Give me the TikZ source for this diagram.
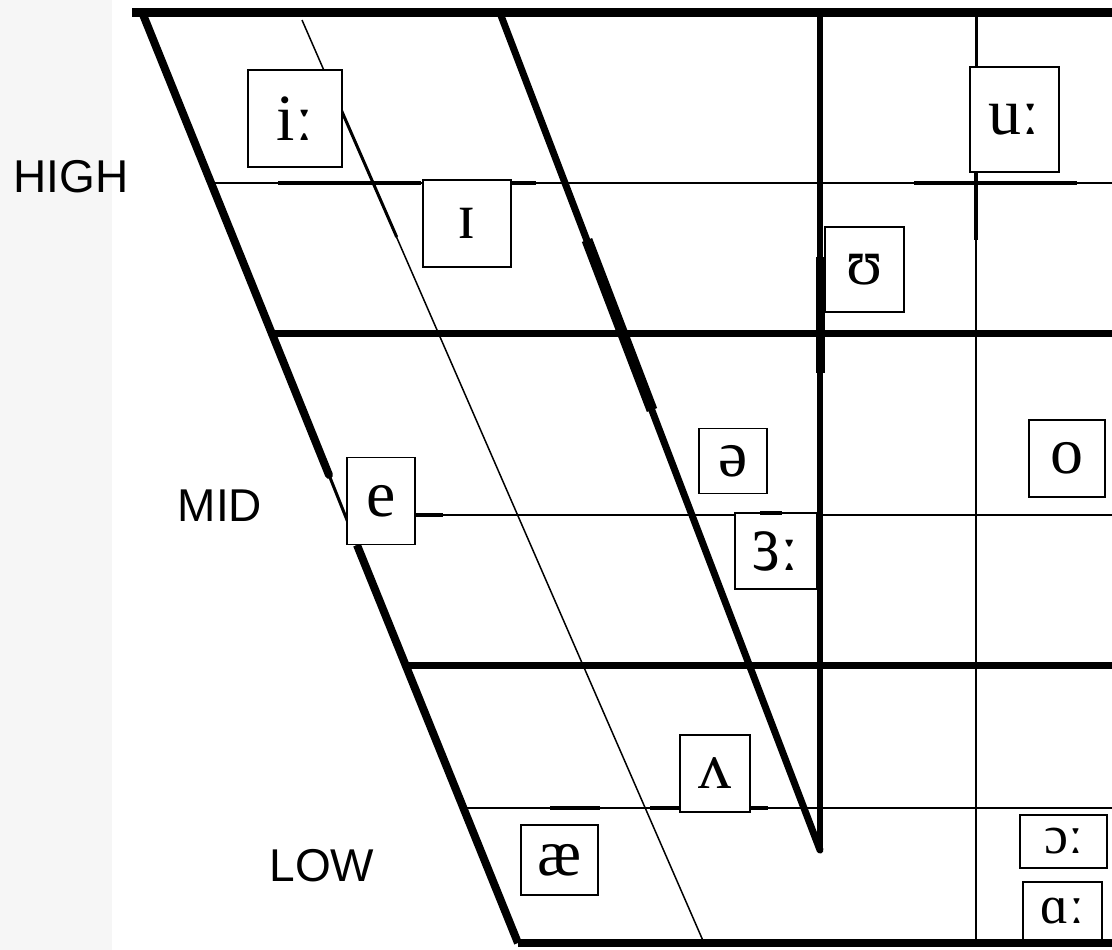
\documentclass[tikz,border=0pt]{standalone}
\usepackage{fontspec}
\usepackage{graphicx}
\setmainfont{Liberation Serif}
\newfontfamily\labelfont{Liberation Sans}
\definecolor{texture}{RGB}{246,246,246}
\begin{document}
\begin{tikzpicture}[x=1pt,y=-1pt,
  heavy/.style={line width=7pt},
  light/.style={line width=1.8pt},
  blot/.style={line width=4pt},
  vbox/.style={draw, fill=white, line width=1.6pt, inner sep=0pt,
    font=\fontsize{66}{66}\selectfont},
  smallvbox/.style={vbox, font=\fontsize{54}{54}\selectfont},
  lvl/.style={font=\labelfont\fontsize{46}{46}\selectfont}]
\useasboundingbox (0,0) rectangle (1112,950);
\fill[texture] (0,0) rectangle (112,950);

% frame coordinates
\coordinate (tl) at (132,13);
\coordinate (tr) at (1112,13);
\coordinate (ls0) at (142,12);
\coordinate (lsa) at (329,475);
\coordinate (lsb) at (357,545);
\coordinate (ls1) at (518,943);
\coordinate (bl) at (518,943);
\coordinate (br) at (1112,943);
\coordinate (ms0) at (500,13);
\coordinate (ms1) at (820,850);
\coordinate (vt) at (820,13);
\coordinate (vb) at (820,850);
\coordinate (tv0) at (976,13);
\coordinate (tv1) at (976,943);
\coordinate (ts0) at (302,20);
\coordinate (ts1) at (704,943);

% outer frame
\draw[line width=9pt] (tl) -- (tr);
\draw[line width=8pt] (bl) -- (br);
\draw[line width=8pt, line cap=round] (ls0) -- (lsa);
\draw[line width=3pt] (lsa) -- (lsb);
\draw[line width=8pt] (lsb) -- (ls1);

% inner slant and vertical
\draw[heavy, line cap=round] (ms0) -- (ms1);
\draw[line width=11pt] (587,240) -- (652,410);
\draw[line width=6.5pt, line cap=round] (vt) -- (vb);
\draw[line width=9pt] (820,257) -- (820,373);
\draw[line width=2pt] (tv0) -- (tv1);
\draw[line width=3pt] (976,13) -- (976,67);
\draw[blot] (976,170) -- (976,240);

% thin slant
\draw[line width=1.5pt] (ts0) -- (ts1);
\draw[line width=3pt] (340.4,108) -- (396.7,237);

% horizontal grid
\coordinate (h1a) at (211,183);   \coordinate (h1b) at (1112,183);
\coordinate (h2a) at (272,333);   \coordinate (h2b) at (1112,333);
\coordinate (h3a) at (345,515);   \coordinate (h3b) at (1112,515);
\coordinate (h4a) at (406,665);   \coordinate (h4b) at (1112,665);
\coordinate (h5a) at (464,808);   \coordinate (h5b) at (1112,808);
\draw[light] (h1a) -- (h1b);
\draw[blot] (278,183) -- (421,183);
\draw[blot] (511,183) -- (536,183);
\draw[blot] (914,183) -- (1077,183);
\draw[heavy] (h2a) -- (h2b);
\draw[light] (h3a) -- (h3b);
\draw[blot] (414,515) -- (443,515);
\draw[heavy] (h4a) -- (h4b);
\draw[light] (h5a) -- (h5b);
\draw[blot] (550,808) -- (600,808);
\draw[blot] (650,808) -- (680,808);
\draw[blot] (750,808) -- (768,808);

% vowel boxes
\node[vbox, minimum width=94pt, minimum height=97pt] (iy) at (295,118.5) {iː};
\node[vbox, minimum width=88pt, minimum height=87pt] (ih) at (467,223.5) {ɪ};
\node[vbox, minimum width=89pt, minimum height=105pt] (uw) at (1014.5,119.5) {uː};
\node[vbox, minimum width=79pt, minimum height=85pt] (uh) at (864.5,269.5) {ʊ};
\node[vbox, minimum width=68pt, minimum height=65pt] (schwa) at (733,461) {ə};
\node[vbox, minimum width=76pt, minimum height=77pt] (ow) at (1067,458.5) {o};
\node[vbox, minimum width=68pt, minimum height=87pt] (eh) at (381,501) {e};
\node[vbox, minimum width=82pt, minimum height=76pt] (er) at (776,551) {\scalebox{1}[1.25]{ɜ}ː};
\node[vbox, minimum width=70pt, minimum height=77pt] (ah) at (715,773.5) {ʌ};
\node[vbox, minimum width=77pt, minimum height=70pt] (ae) at (559.5,860) {æ};
\node[smallvbox, minimum width=87pt, minimum height=53pt] (ao) at (1063.5,841.5) {ɔː};
\node[smallvbox, minimum width=79pt, minimum height=58pt] (aa) at (1062.5,911) {ɑː};
\draw[line width=4pt] (760,513) -- (782,513);

% height labels
\node[lvl] (high) at (71,177) {HIGH};
\node[lvl] (mid) at (220,506) {MID};
\node[lvl] (low) at (322,866) {LOW};
\end{tikzpicture}
\end{document}
